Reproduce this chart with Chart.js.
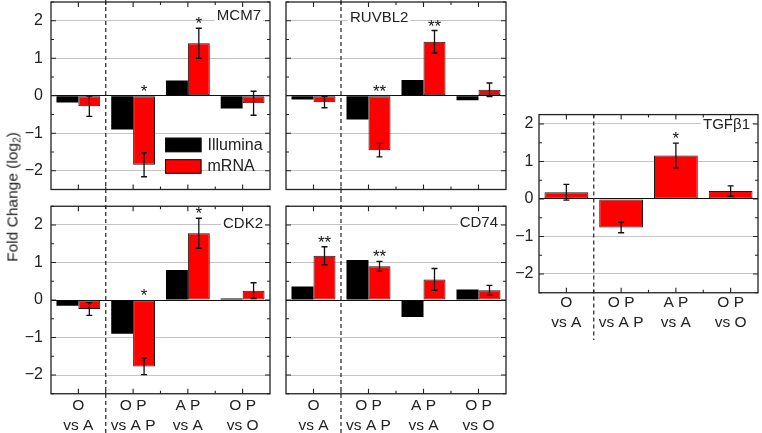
<!DOCTYPE html>
<html><head><meta charset="utf-8">
<script src="https://cdn.jsdelivr.net/npm/chart.js@4.4.0/dist/chart.umd.min.js"></script>
<style>
html,body{margin:0;padding:0;background:#fff;}
#wrap{position:relative;width:762px;height:433px;overflow:hidden;font-family:"Liberation Sans",Arial,sans-serif;}
canvas{position:absolute;}
#ytitle{position:absolute;left:13px;top:197px;transform:translate(-50%,-50%) rotate(-90deg);font-size:15.5px;white-space:nowrap;color:#222;}
#ytitle sub{font-size:10px;vertical-align:-3px;}
</style></head>
<body><div id="wrap">
<canvas id="cMCM7" width="280" height="198" style="left:0px;top:0px"></canvas>
<canvas id="cRUVBL2" width="230" height="198" style="left:280px;top:0px"></canvas>
<canvas id="cCDK2" width="280" height="235" style="left:0px;top:198px"></canvas>
<canvas id="cCD74" width="230" height="235" style="left:280px;top:198px"></canvas>
<canvas id="cTGFB1" width="252" height="250" style="left:510px;top:100px"></canvas>
<div id="ytitle">Fold Change (log<sub>2</sub>)</div>
</div>
<script>
// ---- data ----
const categories = [['O','vs A'],['O P','vs A P'],['A P','vs A'],['O P','vs O']];
const yTicks = [-2,-1,0,1,2];
const seriesNames = ['Illumina','mRNA'];

const mcm7Illumina = [-0.18,-0.90,0.41,-0.34];
const mcm7Mrna     = [-0.28,-1.84,1.40,-0.20];
const mcm7MrnaErr  = [0.27,0.32,0.40,0.32];
const mcm7Sig      = ['','*','*',''];

const ruvbl2Illumina = [-0.10,-0.63,0.42,-0.12];
const ruvbl2Mrna     = [-0.17,-1.45,1.44,0.16];
const ruvbl2MrnaErr  = [0.15,0.18,0.30,0.18];
const ruvbl2Sig      = ['','**','**',''];

const cdk2Illumina = [-0.15,-0.90,0.80,0.04];
const cdk2Mrna     = [-0.24,-1.77,1.78,0.25];
const cdk2MrnaErr  = [0.17,0.22,0.40,0.21];
const cdk2Sig      = ['','*','*',''];

const cd74Illumina = [0.36,1.07,-0.45,0.28];
const cd74Mrna     = [1.18,0.90,0.55,0.26];
const cd74MrnaErr  = [0.24,0.13,0.29,0.13];
const cd74Sig      = ['**','**','',''];

const tgfb1Mrna    = [0.18,-0.76,1.16,0.21];
const tgfb1MrnaErr = [0.21,0.14,0.33,0.14];
const tgfb1Sig     = ['','','*',''];

// ---- styling ----
const FONT = '"Liberation Sans", Arial, sans-serif';
const INK = '#222';

const decorPlugin = {
  id: 'decor',
  afterDatasetsDraw(chart, args, o) {
    const ctx = chart.ctx, a = chart.chartArea, ys = chart.scales.y, xs = chart.scales.x;
    // error bars + significance
    chart.data.datasets.forEach((ds, di) => {
      if (!ds.errors) return;
      const meta = chart.getDatasetMeta(di);
      meta.data.forEach((el, i) => {
        const v = ds.data[i], e = ds.errors[i];
        const px = el.x, y1 = ys.getPixelForValue(v + e), y2 = ys.getPixelForValue(v - e);
        ctx.save();
        ctx.strokeStyle = '#111'; ctx.lineWidth = 1.3;
        ctx.beginPath();
        ctx.moveTo(px, y1); ctx.lineTo(px, y2);
        ctx.moveTo(px - 3, y1); ctx.lineTo(px + 3, y1);
        ctx.moveTo(px - 3, y2); ctx.lineTo(px + 3, y2);
        ctx.stroke();
        const s = ds.sig && ds.sig[i];
        if (s) {
          const ref = v > 0 ? y1 : ys.getPixelForValue(0);
          ctx.fillStyle = '#111';
          ctx.font = '17px ' + FONT;
          ctx.textAlign = 'center'; ctx.textBaseline = 'alphabetic';
          ctx.fillText(s, px, ref + 1);
        }
        ctx.restore();
      });
    });
    const dashX = (xs.getPixelForTick(0) + xs.getPixelForTick(1)) / 2;
    // panel label
    if (o.label) {
      ctx.save();
      ctx.font = '15px ' + FONT;
      const w = ctx.measureText(o.label).width;
      const lx = o.align === 'right' ? a.right - o.dx - w : dashX + o.dx;
      const cy = ys.getPixelForValue(2) + o.dy;
      ctx.fillStyle = '#fff';
      ctx.fillRect(lx - 2, cy - 8, w + 4, 16);
      ctx.fillStyle = INK; ctx.textAlign = 'left'; ctx.textBaseline = 'middle';
      ctx.fillText(o.label, lx, cy + 0.5);
      ctx.restore();
    }
    // legend
    if (o.legend) {
      ctx.save();
      const bx = a.left + 114, bw = 36.5, bh = 14.5;
      chart.data.datasets.forEach((ds, di) => {
        const by = a.top + 135.7 + di * 21.5;
        ctx.fillStyle = ds.backgroundColor;
        ctx.fillRect(bx, by, bw, bh);
        ctx.strokeStyle = '#111'; ctx.lineWidth = 1;
        ctx.strokeRect(bx + 0.5, by + 0.5, bw - 1, bh - 1);
        ctx.fillStyle = INK; ctx.font = '16px ' + FONT;
        ctx.textAlign = 'left'; ctx.textBaseline = 'middle';
        ctx.fillText(ds.label, bx + bw + 6, by + bh / 2 + 0.5);
      });
      ctx.restore();
    }
  },
  afterDraw(chart, args, o) {
    const ctx = chart.ctx, a = chart.chartArea, ys = chart.scales.y, xs = chart.scales.x;
    const dashX = (xs.getPixelForTick(0) + xs.getPixelForTick(1)) / 2;
    ctx.save();
    // dashed separator
    ctx.strokeStyle = '#333'; ctx.lineWidth = 1.3; ctx.setLineDash([4, 3]);
    ctx.beginPath();
    ctx.moveTo(dashX, o.dashTop === 'area' ? a.top : o.dashTop);
    ctx.lineTo(dashX, o.dashBottom);
    ctx.stroke();
    ctx.setLineDash([]);
    // frame
    ctx.strokeStyle = INK; ctx.lineWidth = 1.3;
    ctx.strokeRect(a.left, a.top, a.right - a.left, a.bottom - a.top);
    // inward ticks
    ctx.lineWidth = 1.1;
    ctx.beginPath();
    const yMarks = [];
    yTicks.forEach(v => { yMarks.push([v, 5]); yMarks.push([v + 0.5, 3]); yMarks.push([v - 0.5, 3]); });
    yMarks.forEach(([v, L]) => {
      if (v < ys.min - 1e-6 || v > ys.max + 1e-6) return;
      const py = ys.getPixelForValue(v);
      ctx.moveTo(a.left, py); ctx.lineTo(a.left + L, py);
      ctx.moveTo(a.right, py); ctx.lineTo(a.right - L, py);
    });
    for (let i = 0; i < categories.length; i++) {
      const px = xs.getPixelForTick(i);
      ctx.moveTo(px, a.top); ctx.lineTo(px, a.top + 5);
      ctx.moveTo(px, a.bottom); ctx.lineTo(px, a.bottom - 5);
      if (i < categories.length - 1) {
        const mx = (px + xs.getPixelForTick(i + 1)) / 2;
        ctx.moveTo(mx, a.top); ctx.lineTo(mx, a.top + 3);
        ctx.moveTo(mx, a.bottom); ctx.lineTo(mx, a.bottom - 3);
      }
    }
    ctx.stroke();
    ctx.restore();
  }
};

function makePanel(id, cfg) {
  const canvas = document.getElementById(id);
  const W = canvas.width, H = canvas.height, a = cfg.area;
  const datasets = cfg.series.map(s => ({
    label: s.name, data: s.values,
    backgroundColor: s.color, borderColor: s.border, borderWidth: s.bw,
    borderSkipped: false, barPercentage: 1.0, categoryPercentage: 0.8,
    errors: s.errors, sig: s.sig
  }));
  return new Chart(canvas, {
    type: 'bar',
    data: { labels: categories, datasets },
    options: {
      responsive: false, animation: false, devicePixelRatio: 1,
      layout: { padding: { left: 0, top: a.t, right: W - a.r, bottom: 0 } },
      plugins: { legend: { display: false }, tooltip: { enabled: false }, decor: cfg.decor },
      scales: {
        x: {
          grid: { display: false, drawTicks: false }, border: { display: false },
          ticks: { display: cfg.xLabels, color: INK, padding: cfg.xPad, maxRotation: 0, autoSkip: false,
                   font: { family: FONT, size: 15.5, lineHeight: '20px' } },
          afterFit: s => { s.height = H - a.b; s.paddingLeft = 0; s.paddingRight = 0; }
        },
        y: {
          min: -2.5, max: cfg.yMax,
          afterBuildTicks: s => { s.ticks = yTicks.map(v => ({ value: v })); },
          grid: { color: c => (c.tick && c.tick.value === 0) ? '#111' : '#c4c4c4', lineWidth: 1, drawTicks: false },
          border: { display: false },
          ticks: { display: cfg.yLabels, color: INK, padding: cfg.yPad,
                   font: { family: FONT, size: 16 },
                   callback: v => v < 0 ? '\u2212' + Math.abs(v) : String(v) },
          afterFit: s => { s.width = a.l; s.paddingTop = 0; s.paddingBottom = 0; }
        }
      }
    },
    plugins: [decorPlugin]
  });
}

const BLACK = '#000000', RED = '#ff0000';
const two = (ill, mr, err, sig) => [
  { name: seriesNames[0], values: ill, color: BLACK, border: BLACK, bw: 0 },
  { name: seriesNames[1], values: mr, color: RED, border: '#1a1a1a', bw: 1, errors: err, sig: sig }
];

makePanel('cMCM7', { area: { l: 51, t: 2, r: 270, b: 189.5 }, yMax: 2.5, xLabels: false, yLabels: true, yPad: 8, xPad: 0,
  series: two(mcm7Illumina, mcm7Mrna, mcm7MrnaErr, mcm7Sig),
  decor: { label: 'MCM7', align: 'right', dx: 9, dy: -5.5, legend: true, dashTop: 0, dashBottom: 198 } });

makePanel('cRUVBL2', { area: { l: 6, t: 2, r: 226, b: 189.5 }, yMax: 2.5, xLabels: false, yLabels: false, yPad: 8, xPad: 0,
  series: two(ruvbl2Illumina, ruvbl2Mrna, ruvbl2MrnaErr, ruvbl2Sig),
  decor: { label: 'RUVBL2', align: 'left', dx: 9, dy: -3, legend: false, dashTop: 0, dashBottom: 198 } });

makePanel('cCDK2', { area: { l: 51, t: 8.25, r: 270, b: 195.75 }, yMax: 2.5, xLabels: true, yLabels: true, yPad: 8, xPad: 2,
  series: two(cdk2Illumina, cdk2Mrna, cdk2MrnaErr, cdk2Sig),
  decor: { label: 'CDK2', align: 'right', dx: 7, dy: -1.7, legend: false, dashTop: 0, dashBottom: 235 } });

makePanel('cCD74', { area: { l: 6, t: 8.25, r: 226, b: 195.75 }, yMax: 2.5, xLabels: true, yLabels: false, yPad: 8, xPad: 2,
  series: two(cd74Illumina, cd74Mrna, cd74MrnaErr, cd74Sig),
  decor: { label: 'CD74', align: 'right', dx: 8, dy: -3, legend: false, dashTop: 0, dashBottom: 235 } });

makePanel('cTGFB1', { area: { l: 29, t: 14.6, r: 248, b: 192.75 }, yMax: 2.25, xLabels: true, yLabels: true, yPad: 5.5, xPad: 0,
  series: [{ name: seriesNames[1], values: tgfb1Mrna, color: RED, border: '#1a1a1a', bw: 1, errors: tgfb1MrnaErr, sig: tgfb1Sig }],
  decor: { label: 'TGF\u03b21', align: 'right', dx: 8, dy: 0, legend: false, dashTop: 'area', dashBottom: 240 } });
</script>
</body></html>
